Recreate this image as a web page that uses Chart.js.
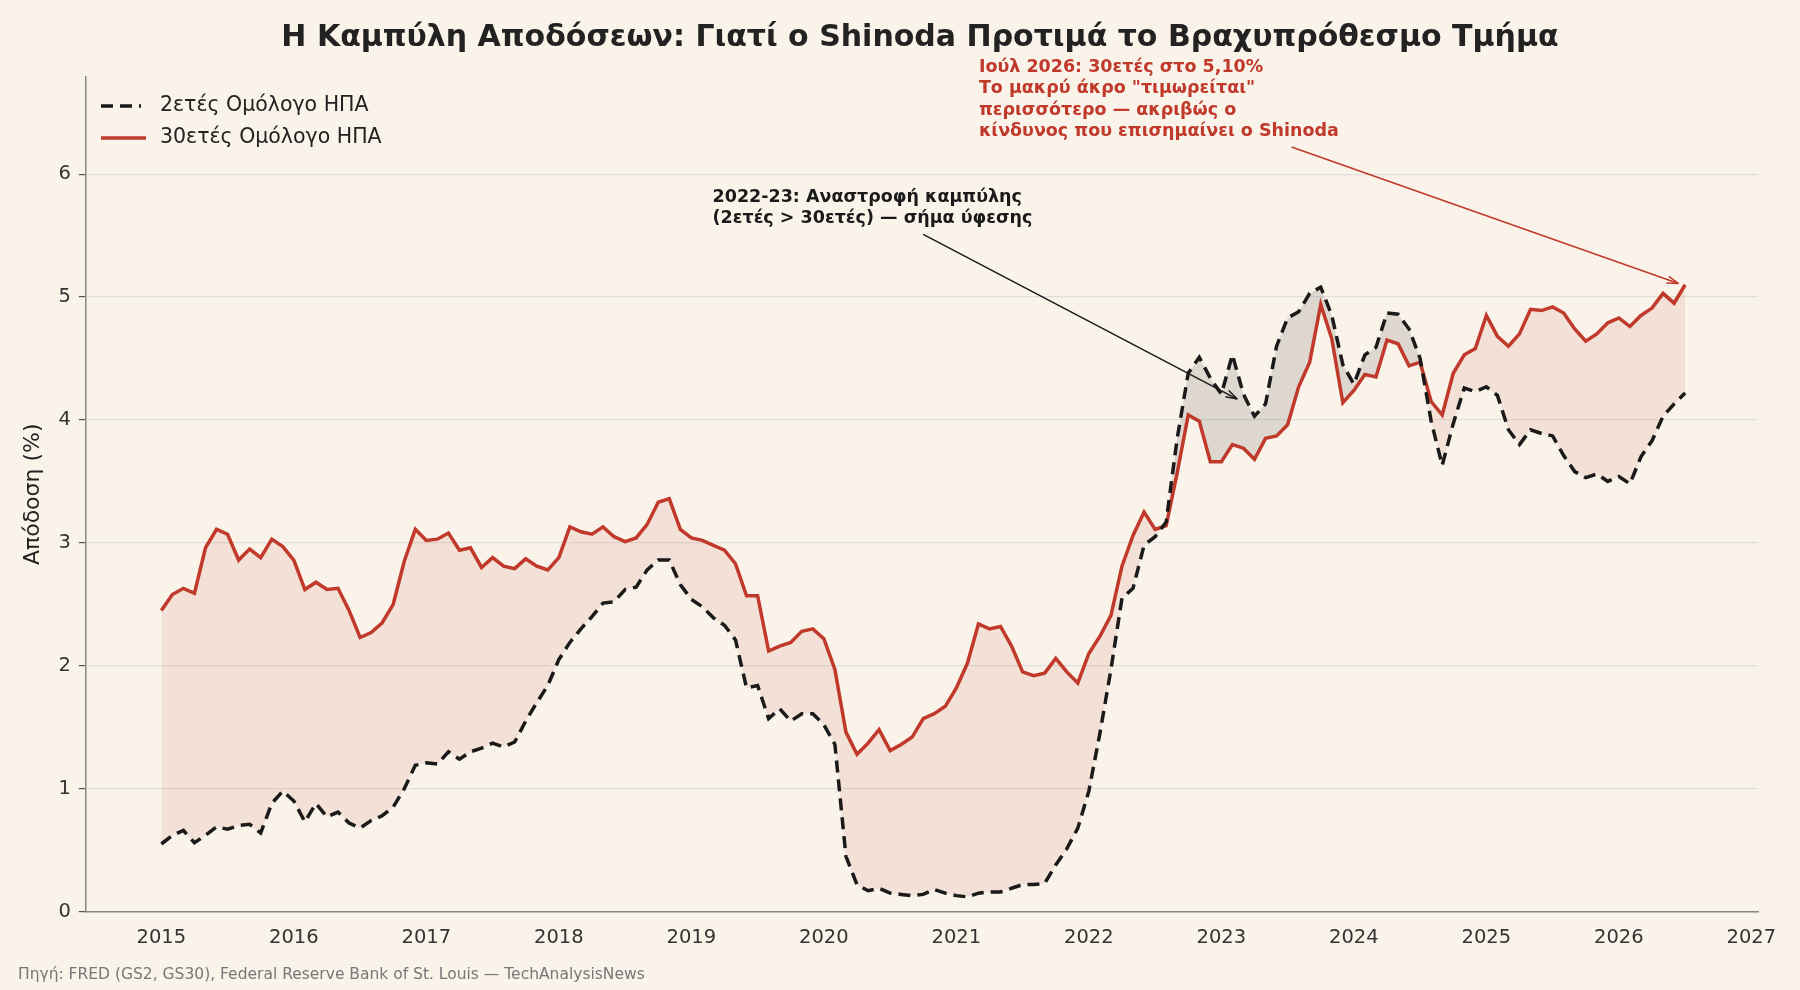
<!DOCTYPE html>
<html><head><meta charset="utf-8">
<script src="https://cdn.jsdelivr.net/npm/chart.js@4.4.1/dist/chart.umd.min.js"></script>
<style>html,body{margin:0;background:#f9f3ea;}#w{width:1800px;height:990px;position:relative}</style>
</head><body><div id="w"><canvas id="c"></canvas></div>
<script>
const startYear = 2015;
const years = [2015,2016,2017,2018,2019,2020,2021,2022,2023,2024,2025,2026,2027];
const y2 = [0.55,0.62,0.66,0.56,0.62,0.69,0.67,0.70,0.71,0.64,0.88,0.98,
0.90,0.73,0.88,0.77,0.81,0.72,0.68,0.74,0.78,0.85,1.00,1.19,
1.21,1.20,1.30,1.24,1.30,1.33,1.37,1.34,1.38,1.55,1.70,1.84,
2.05,2.19,2.30,2.40,2.51,2.52,2.62,2.64,2.78,2.86,2.86,2.66,
2.54,2.48,2.39,2.33,2.21,1.82,1.84,1.57,1.65,1.55,1.61,1.61,
1.52,1.36,0.45,0.22,0.17,0.19,0.15,0.14,0.13,0.14,0.18,0.15,
0.13,0.12,0.15,0.16,0.16,0.19,0.22,0.22,0.23,0.38,0.51,0.68,
0.98,1.45,1.97,2.55,2.63,2.98,3.05,3.17,3.85,4.38,4.51,4.34,
4.21,4.53,4.21,4.03,4.13,4.60,4.83,4.88,5.03,5.08,4.85,4.45,
4.29,4.53,4.59,4.87,4.86,4.74,4.50,3.99,3.63,3.97,4.26,4.23,
4.27,4.20,3.92,3.80,3.92,3.89,3.87,3.71,3.58,3.53,3.56,3.50,
3.54,3.48,3.70,3.83,4.03,4.13,4.22];
const y30 = [2.45,2.58,2.63,2.59,2.96,3.11,3.07,2.86,2.95,2.88,3.03,2.97,
2.86,2.62,2.68,2.62,2.63,2.45,2.23,2.27,2.35,2.50,2.85,3.11,
3.02,3.03,3.08,2.94,2.96,2.80,2.88,2.81,2.79,2.87,2.81,2.78,
2.88,3.13,3.09,3.07,3.13,3.05,3.01,3.04,3.15,3.33,3.36,3.11,
3.04,3.02,2.98,2.94,2.83,2.57,2.57,2.12,2.16,2.19,2.28,2.30,
2.22,1.97,1.46,1.28,1.37,1.48,1.31,1.36,1.42,1.57,1.61,1.67,
1.82,2.02,2.34,2.30,2.32,2.16,1.95,1.92,1.94,2.06,1.95,1.86,
2.10,2.24,2.41,2.81,3.06,3.25,3.11,3.14,3.57,4.04,3.99,3.66,
3.66,3.80,3.77,3.68,3.85,3.87,3.96,4.27,4.47,4.94,4.66,4.14,
4.24,4.37,4.35,4.65,4.62,4.44,4.47,4.15,4.04,4.38,4.53,4.58,
4.85,4.68,4.60,4.70,4.90,4.89,4.92,4.87,4.74,4.64,4.70,4.79,
4.83,4.76,4.85,4.91,5.03,4.95,5.10];
const label2 = '2ετές Ομόλογο ΗΠΑ';
const label30 = '30ετές Ομόλογο ΗΠΑ';
const toPts = a => a.map((v,i)=>({x:startYear+i/12,y:v}));
const RED='#c0392b', DARK='#1a1a1a';
const F='"DejaVu Sans", sans-serif';

const overlay = {
  id:'overlay',
  afterDraw(ch){
    const c=ch.ctx, xs=ch.scales.x, ys=ch.scales.y;
    const X=v=>xs.getPixelForValue(v), Y=v=>ys.getPixelForValue(v);
    c.save();
    c.fillStyle='#222'; c.font='bold 30px '+F; c.textAlign='center'; c.textBaseline='middle';
    c.fillText('Η Καμπύλη Αποδόσεων: Γιατί ο Shinoda Προτιμά το Βραχυπρόθεσμο Τμήμα', 920, 38);
    c.font='15.5px '+F; c.fillStyle='#777'; c.textAlign='left';
    c.fillText('Πηγή: FRED (GS2, GS30), Federal Reserve Bank of St. Louis — TechAnalysisNews', 18, 975);
    c.lineWidth=3.5; c.strokeStyle=DARK; c.setLineDash([12,7]);
    c.beginPath(); c.moveTo(101,106); c.lineTo(141,106); c.stroke();
    c.setLineDash([]); c.strokeStyle=RED;
    c.beginPath(); c.moveTo(101,138); c.lineTo(146,138); c.stroke();
    c.fillStyle='#222'; c.font='20.5px '+F;
    c.fillText(label2,160,106); c.fillText(label30,160,138);
    function arrow(x1,y1,x2,y2,col){
      c.strokeStyle=col; c.fillStyle=col; c.lineWidth=1.5;
      c.beginPath(); c.moveTo(x1,y1); c.lineTo(x2,y2); c.stroke();
      const ang=Math.atan2(y2-y1,x2-x1), L=12;
      c.beginPath(); c.moveTo(x2,y2);
      c.lineTo(x2-L*Math.cos(ang-0.3),y2-L*Math.sin(ang-0.3));
      c.moveTo(x2,y2);
      c.lineTo(x2-L*Math.cos(ang+0.3),y2-L*Math.sin(ang+0.3)); c.stroke();
    }
    c.font='bold 17.5px '+F; c.fillStyle=DARK; c.textBaseline='middle';
    const ax=X(2019.16), ay=Y(5.81);
    c.fillText('2022-23: Αναστροφή καμπύλης',ax,ay);
    c.fillText('(2ετές > 30ετές) — σήμα ύφεσης',ax,ay+21);
    arrow(X(2020.75),Y(5.51),X(2023.12),Y(4.17),DARK);
    c.fillStyle=RED;
    const bx=X(2021.17), by=Y(6.87);
    ['Ιούλ 2026: 30ετές στο 5,10%','Το μακρύ άκρο "τιμωρείται"','περισσότερο — ακριβώς ο','κίνδυνος που επισημαίνει ο Shinoda']
      .forEach((t,i)=>c.fillText(t,bx,by+i*21.5));
    arrow(X(2023.53),Y(6.22),X(2026.45),Y(5.11),RED);
    c.restore();
  }
};

new Chart(document.getElementById('c'),{
  type:'line',
  data:{datasets:[
    {label:label2,data:toPts(y2),borderColor:DARK,borderWidth:3.5,borderDash:[12,7],pointRadius:0,tension:0,fill:false},
    {label:label30,data:toPts(y30),borderColor:RED,borderWidth:3.5,pointRadius:0,tension:0,
     fill:{target:0,above:'rgba(192,57,43,0.10)',below:'rgba(60,60,60,0.15)'}}
  ]},
  options:{
    responsive:true,maintainAspectRatio:false,animation:false,
    layout:{padding:{top:77,left:16,right:42,bottom:32}},
    plugins:{legend:{display:false},tooltip:{enabled:false}},
    scales:{
      x:{type:'linear',min:2014.43,max:2027.05,
        afterBuildTicks:s=>{s.ticks=years.map(v=>({value:v}));},
        ticks:{color:'#333',font:{size:19.5,family:F},padding:8,callback:v=>String(v)},
        grid:{display:false,drawTicks:true,tickLength:7,tickColor:'#555'},
        border:{color:'#888',width:1.5}},
      y:{min:0,max:6.79,
        afterBuildTicks:s=>{s.ticks=[0,1,2,3,4,5,6].map(v=>({value:v}));},
        ticks:{color:'#333',font:{size:19.5,family:F},padding:8},
        grid:{color:'#e2dedb',lineWidth:1.2,tickLength:7,tickColor:'#555'},
        border:{color:'#888',width:1.5},
        title:{display:true,text:'Απόδοση (%)',color:'#222',font:{size:22,family:F}}}
    }
  },
  plugins:[overlay]
});
</script></body></html>
